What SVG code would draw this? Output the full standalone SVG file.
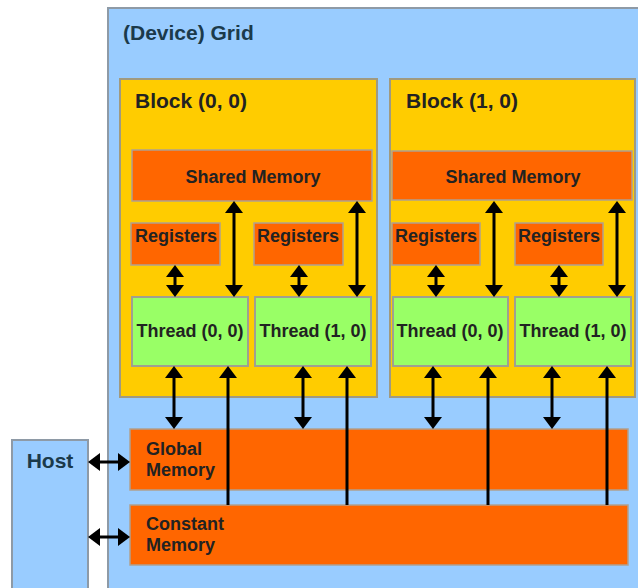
<svg xmlns="http://www.w3.org/2000/svg" width="638" height="588" viewBox="0 0 638 588">
<style>
.grid{fill:#99ccff;stroke:#8e9aa6;stroke-width:2}
.block{fill:#ffcc00;stroke:#a09a80;stroke-width:2}
.mem{fill:#ff6600;stroke:#b0a090;stroke-width:1.5}
.thr{fill:#99ff66;stroke:#a0a090;stroke-width:2}
text{font-family:"Liberation Sans",Arial,sans-serif;font-weight:bold;fill:#222}
.big{font-size:21px}
.lbl{font-size:18px}
.blue{fill:#1b3a4b}
.c{text-anchor:middle}
#connectors line{stroke:#000;stroke-width:3}
.dbl{marker-start:url(#ah);marker-end:url(#ah)}
.up{marker-end:url(#ah)}
</style>
<defs>
<marker id="ah" viewBox="0 0 12 18" refX="6" refY="9" markerWidth="12" markerHeight="18" markerUnits="userSpaceOnUse" orient="auto-start-reverse">
<path d="M0,0 L12,9 L0,18 z" fill="#000"/>
</marker>
</defs>
<rect width="638" height="588" fill="#ffffff"/>
<g id="grid">
<rect class="grid" x="108" y="8" width="545" height="600"/>
<text class="big blue" x="123" y="40">(Device) Grid</text>
</g>
<g id="host">
<rect class="grid" x="12" y="440" width="76" height="170"/>
<text class="big blue c" x="50" y="468">Host</text>
</g>
<g id="block00">
<rect class="block" x="120" y="79" width="257" height="318"/>
<text class="big" x="135" y="108">Block (0, 0)</text>
</g>
<g id="block10">
<rect class="block" x="390" y="79" width="245" height="318"/>
<text class="big" x="406" y="108">Block (1, 0)</text>
</g>
<g id="shared00">
<rect class="mem" x="132" y="150" width="240" height="51"/>
<text class="lbl c" x="253" y="183">Shared Memory</text>
</g>
<g id="shared10">
<rect class="mem" x="392" y="151" width="240" height="49"/>
<text class="lbl c" x="513" y="183">Shared Memory</text>
</g>
<g id="reg00a">
<rect class="mem" x="131" y="223" width="89" height="42"/>
<text class="lbl c" x="176" y="242">Registers</text>
</g>
<g id="reg00b">
<rect class="mem" x="254" y="223" width="89" height="42"/>
<text class="lbl c" x="298" y="242">Registers</text>
</g>
<g id="reg10a">
<rect class="mem" x="392" y="223" width="88" height="42"/>
<text class="lbl c" x="436" y="242">Registers</text>
</g>
<g id="reg10b">
<rect class="mem" x="515" y="223" width="88" height="42"/>
<text class="lbl c" x="559" y="242">Registers</text>
</g>
<g id="thr00a">
<rect class="thr" x="132" y="297" width="116" height="69"/>
<text class="lbl c" x="190" y="337">Thread (0, 0)</text>
</g>
<g id="thr00b">
<rect class="thr" x="255" y="297" width="116" height="69"/>
<text class="lbl c" x="313" y="337">Thread (1, 0)</text>
</g>
<g id="thr10a">
<rect class="thr" x="393" y="297" width="115" height="69"/>
<text class="lbl c" x="450" y="337">Thread (0, 0)</text>
</g>
<g id="thr10b">
<rect class="thr" x="515" y="297" width="116" height="69"/>
<text class="lbl c" x="573" y="337">Thread (1, 0)</text>
</g>
<g id="global">
<rect class="mem" x="130" y="429" width="498" height="61"/>
<text class="lbl" x="146" y="455">Global</text>
<text class="lbl" x="146" y="476">Memory</text>
</g>
<g id="constant">
<rect class="mem" x="130" y="505" width="498" height="60"/>
<text class="lbl" x="146" y="530">Constant</text>
<text class="lbl" x="146" y="551">Memory</text>
</g>
<g id="connectors">
<line class="dbl" x1="175" y1="271" x2="175" y2="291"/>
<line class="dbl" x1="299" y1="271" x2="299" y2="291"/>
<line class="dbl" x1="436" y1="271" x2="436" y2="291"/>
<line class="dbl" x1="559" y1="271" x2="559" y2="291"/>
<line class="dbl" x1="234" y1="207" x2="234" y2="291"/>
<line class="dbl" x1="357" y1="207" x2="357" y2="291"/>
<line class="dbl" x1="494" y1="207" x2="494" y2="291"/>
<line class="dbl" x1="617" y1="207" x2="617" y2="291"/>
<line class="dbl" x1="174" y1="372" x2="174" y2="423"/>
<line class="dbl" x1="303" y1="372" x2="303" y2="423"/>
<line class="dbl" x1="433" y1="372" x2="433" y2="423"/>
<line class="dbl" x1="552" y1="372" x2="552" y2="423"/>
<line class="up" x1="228" y1="505" x2="228" y2="372"/>
<line class="up" x1="347" y1="505" x2="347" y2="372"/>
<line class="up" x1="488" y1="505" x2="488" y2="372"/>
<line class="up" x1="607" y1="505" x2="607" y2="372"/>
<line class="dbl" x1="94" y1="462" x2="124" y2="462"/>
<line class="dbl" x1="94" y1="537" x2="124" y2="537"/>
</g>
</svg>
